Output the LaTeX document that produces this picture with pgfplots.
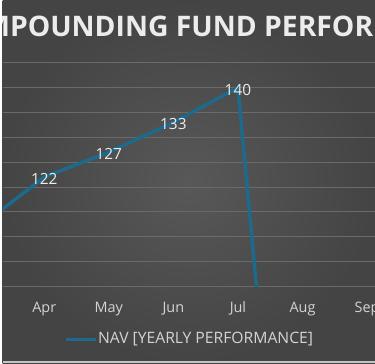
\documentclass[border=0pt]{standalone}
\usepackage{pgfplots}
\pgfplotsset{compat=1.18}
\usepackage{fontspec}
\setmainfont{Open Sans}
\definecolor{bgin}{HTML}{585858}
\definecolor{bgout}{HTML}{444444}
\definecolor{gridc}{HTML}{6A6A6A}
\definecolor{navc}{HTML}{1C6B8E}
\definecolor{tickc}{HTML}{D4D4D4}
\definecolor{labc}{HTML}{ECECEC}
\definecolor{stripc}{HTML}{C4C4C4}
\begin{document}
\newlength\tw
\settowidth\tw{\fontsize{28.5}{32}\selectfont\bfseries COMPOUNDING FUND PERFOR}
\begin{tikzpicture}
\clip (0,0) rectangle (375pt,366pt);
\shade[inner color=bgin, outer color=bgout] (0,0) rectangle (375pt,366pt);
\fill[stripc] (0,0) rectangle (375pt,2.5pt);
\node[anchor=base west, inner sep=0pt, text=labc, font=\fontsize{28.5}{32}\selectfont\bfseries] at ({373pt-\tw},328.8pt) {COMPOUNDING FUND PERFORMANCE};
\begin{axis}[at={(0pt,77.7pt)}, anchor=south west, scale only axis,
  width=375pt, height=225pt,
  xmin=3.354, xmax=9.123, ymin=100, ymax=145,
  ytick={100,105,...,145}, yticklabels={},
  ymajorgrids, grid style={color=gridc, line width=0.8pt},
  axis line style={draw=none}, major tick length=0pt,
  xtick={4,...,9}, xticklabels={Apr,May,Jun,Jul,Aug,Sep},
  xticklabel style={anchor=base, yshift=-26.7pt, font=\fontsize{14.5}{16}\selectfont, text=tickc}]
\addplot[color=navc, line width=3.4pt, line join=round, nodes near coords,
  point meta=explicit symbolic,
  every node near coord/.append style={anchor=center, yshift=-2pt, font=\fontsize{15.5}{17}\selectfont, text=labc}]
  table[meta=lab] {
x y lab
3 112 {}
4 122 122
5 127 127
6 133 133
7 140 140
8 0 {}
};
\end{axis}
\draw[navc, line width=3.4pt] (64pt,24.3pt) -- (94pt,24.3pt);
\node[anchor=west, inner sep=1pt, text=tickc, font=\fontsize{15.8}{17}\selectfont] at (95pt,24.3pt) {NAV [YEARLY PERFORMANCE]};
\end{tikzpicture}
\end{document}
